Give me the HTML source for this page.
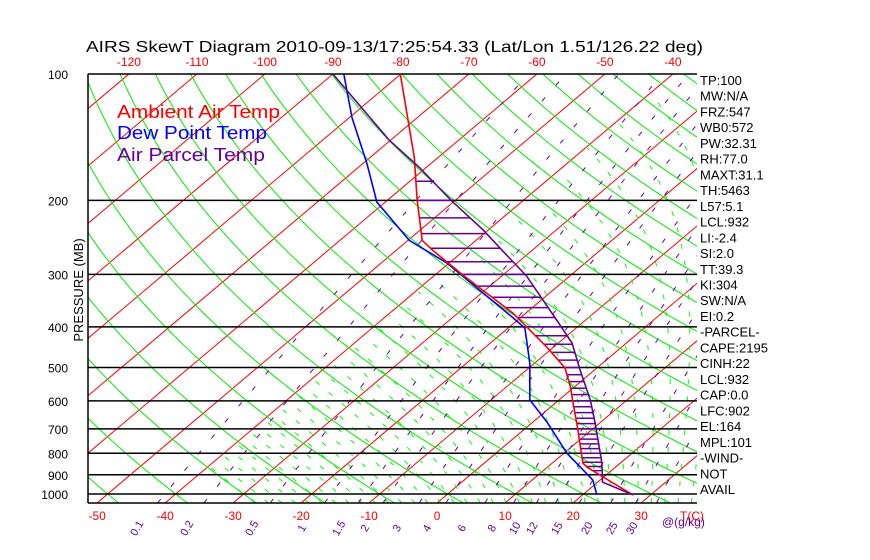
<!DOCTYPE html>
<html><head><meta charset="utf-8"><style>
html,body{margin:0;padding:0;background:#fff;}
svg{display:block;font-family:"Liberation Sans",sans-serif;}
</style></head><body>
<svg id="chart" width="870" height="560" viewBox="0 0 870 560" xmlns="http://www.w3.org/2000/svg">
<rect x="0" y="0" width="870" height="560" fill="#fff"/>
<defs><clipPath id="plotclip"><rect x="88" y="74" width="609" height="429"/></clipPath></defs>
<text x="86" y="52" font-size="16" textLength="617" lengthAdjust="spacingAndGlyphs" fill="#000">AIRS SkewT Diagram 2010-09-13/17:25:54.33 (Lat/Lon 1.51/126.22 deg)</text>
<g id="bg" clip-path="url(#plotclip)"></g>
<g id="grid"></g>
<g id="series" clip-path="url(#plotclip)"></g>
<g id="labels"></g>
<text transform="translate(83,290) rotate(-90)" text-anchor="middle" font-size="13" fill="#000">PRESSURE (MB)</text>
<g font-size="18">
<text x="117" y="118" fill="#ff0000" textLength="163" lengthAdjust="spacingAndGlyphs">Ambient Air Temp</text>
<text x="117" y="139" fill="#0000ff" textLength="150" lengthAdjust="spacingAndGlyphs">Dew Point Temp</text>
<text x="117" y="161" fill="#660099" textLength="148" lengthAdjust="spacingAndGlyphs">Air Parcel Temp</text>
</g>
<g id="stats" font-size="13" fill="#000"></g>
</svg>
<script>
// ---- data ----
const pressureTicks=[100,200,300,400,500,600,700,800,900,1000];
const topTempTicks=[-120,-110,-100,-90,-80,-70,-60,-50,-40];
const bottomTempTicks=[-50,-40,-30,-20,-10,0,10,20,30];
const mixRatios=[0.1,0.2,0.5,1,1.5,2,3,4,6,8,10,12,15,20,25,30];
const mixLabelX=[140,190,255,305,342,368,400,430,465,495,518,535,560,590,615,635];
const envP=[100,158,200,249,263,301,371,447,501,556,604,704,844,863,911,1005];
const envT=[-80.1,-63.5,-55.6,-47.9,-44.6,-35.9,-21.9,-11.0,-4.7,-0.6,2.4,8.0,14.5,15.8,19.9,27.4];
const dewP=[100,127,163,202,249,282,327,381,403,488,597,677,799,926,1005];
const dewT=[-88.4,-79.6,-69.5,-61.2,-49.8,-40.3,-30.8,-21.0,-17.5,-10.7,-4.3,2.3,10.4,18.9,22.1];
const parP=[100,144,167,200,235,263,303,396,437,507,597,677,844,937,1005];
const parT=[-90,-70.1,-61.0,-50.6,-40.8,-34.4,-26.3,-12.9,-8.0,-2.1,4.6,9.3,17.3,20.7,27.4];
const statsText=["TP:100","MW:N/A","FRZ:547","WB0:572","PW:32.31","RH:77.0","MAXT:31.1","TH:5463","L57:5.1","LCL:932","LI:-2.4","SI:2.0","TT:39.3","KI:304","SW:N/A","EI:0.2","-PARCEL-","CAPE:2195","CINH:22","LCL:932","CAP:0.0","LFC:902","EL:164","MPL:101","-WIND-","NOT","AVAIL"];

const NS="http://www.w3.org/2000/svg";
const Y=p=>74+182.4*Math.log(p/100);
const X=(T,p)=>437+6.8*T+1.184*(503-Y(p));
function mk(tag,attrs,parent){const e=document.createElementNS(NS,tag);for(const k in attrs)e.setAttribute(k,attrs[k]);parent.appendChild(e);return e;}
const bg=document.getElementById('bg'),grid=document.getElementById('grid'),ser=document.getElementById('series'),lab=document.getElementById('labels'),st=document.getElementById('stats');
const es=Tc=>6.112*Math.exp(17.67*Tc/(Tc+243.5));
const pts=a=>a.map(q=>q[0].toFixed(1)+','+q[1].toFixed(1)).join(' ');

// isotherms
for(let T=-170;T<=40;T+=10){
  const l=mk('line',{x1:X(T,1050),y1:Y(1050),x2:X(T,100),y2:Y(100),stroke:'#ff0000','stroke-width':1},bg);
  
  
}
// dry adiabats
for(let k=-10;k<=24;k++){
  const th=273.15+10*k,a=[];
  for(let p=1050;p>=100;p-=10){a.push([X(th*Math.pow(p/1000,0.2857)-273.15,p),Y(p)]);}
  const l=mk('polyline',{points:pts(a),fill:'none',stroke:'#00ee00','stroke-width':1},bg);
  
  
}
// moist adiabats (only drawn where T > -40C)
function moistStep(T,p,dp){const Tc=T-273.15,e=es(Tc),rs=0.622*e/(p-e);
  const g=(287*T+2.5e6*rs)/(1004+2.5e6*2.5e6*rs*0.622/(287*T*T));return T+g/p*dp;}
for(let tw=-30;tw<=44;tw+=2){
  const a=[];let T=tw+273.15;
  let Td=T;for(let p=1000;p<1050;p+=5){Td=moistStep(Td,p,5);}
  a.push([X(Td-273.15,1050),Y(1050)]);
  for(let p=1000;p>=100;p-=5){if(T-273.15<-40)break;a.push([X(T-273.15,p),Y(p)]);T=moistStep(T,p,-5);}
  if(a.length<2)continue;
  const l=mk('polyline',{points:pts(a),fill:'none',stroke:'#00ff00','stroke-width':1,'stroke-dasharray':'5 12'},bg);
  
  
}
// mixing ratio lines
for(const w of mixRatios){
  const a=[],r=w/1000;
  for(let p=1050;p>=100;p-=10){const e=r*p/(0.622+r),L=Math.log(e/6.112),Tc=243.5*L/(17.67-L);a.push([X(Tc,p),Y(p)]);}
  const l=mk('polyline',{points:pts(a),fill:'none',stroke:'#660099','stroke-width':1,'stroke-dasharray':'5 16'},bg);
  
  
}
// pressure grid & labels
for(const p of pressureTicks){
  const l=mk('line',{x1:88,x2:697,y1:Y(p),y2:Y(p),stroke:'#000','stroke-width':1.5},grid);
  
  
  const t=mk('text',{x:68,y:Y(p)+5,'text-anchor':'end','font-size':12,fill:'#000'},lab);t.textContent=p;
  
  
}
{const l=mk('line',{x1:88,x2:697,y1:503,y2:503,stroke:'#000','stroke-width':1.5},grid);


const v=mk('line',{x1:88,x2:88,y1:74,y2:503,stroke:'#000','stroke-width':1.5},grid);

}
for(const T of topTempTicks){
  const t=mk('text',{x:X(T,100),y:66,'text-anchor':'middle','font-size':12,fill:'#ff0000'},lab);t.textContent=T;
  
  
}
for(const T of bottomTempTicks){
  const t=mk('text',{x:X(T,1050),y:520,'text-anchor':'middle','font-size':12,fill:'#ff0000'},lab);t.textContent=T;
  
  
}
{const t=mk('text',{x:680,y:520,'font-size':12,fill:'#ff0000'},lab);t.textContent='T(C)';


const g=mk('text',{x:662,y:526,'font-size':12,fill:'#660099'},lab);g.textContent='@(g/kg)';

}
mixRatios.forEach((w,i)=>{
  const t=mk('text',{transform:'translate('+mixLabelX[i]+',530) rotate(-60)','text-anchor':'middle','font-size':11,fill:'#660099'},lab);t.textContent=w;
  
  
});
// series
function interp(P,T,p){for(let i=0;i<P.length-1;i++){if(p>=P[i]&&p<=P[i+1]){const f=Math.log(p/P[i])/Math.log(P[i+1]/P[i]);return T[i]+f*(T[i+1]-T[i]);}}return null;}
for(let p=180;p<=930;p+=20){
  const te=interp(envP,envT,p),tp=interp(parP,parT,p);
  if(te!==null&&tp!==null&&tp>te){
    const h=mk('line',{x1:X(te,p),x2:X(tp,p),y1:Y(p),y2:Y(p),stroke:'#660099','stroke-width':1.5},ser);
    
    
  }
}
function series(P,T,color,name){
  const l=mk('polyline',{points:pts(P.map((p,i)=>[X(T[i],p),Y(p)])),fill:'none',stroke:color,'stroke-width':1.6},ser);
  
  
}
series(dewP,dewT,'#0000ff','dew-point-line');
series(envP,envT,'#ff0000','ambient-temp-line');
series(parP,parT,'#660099','parcel-temp-line');
statsText.forEach((s,i)=>{
  const t=mk('text',{x:700,y:85+i*15.73,fill:'#000'},st);t.textContent=s;
  
  
});
</script>
</body></html>
